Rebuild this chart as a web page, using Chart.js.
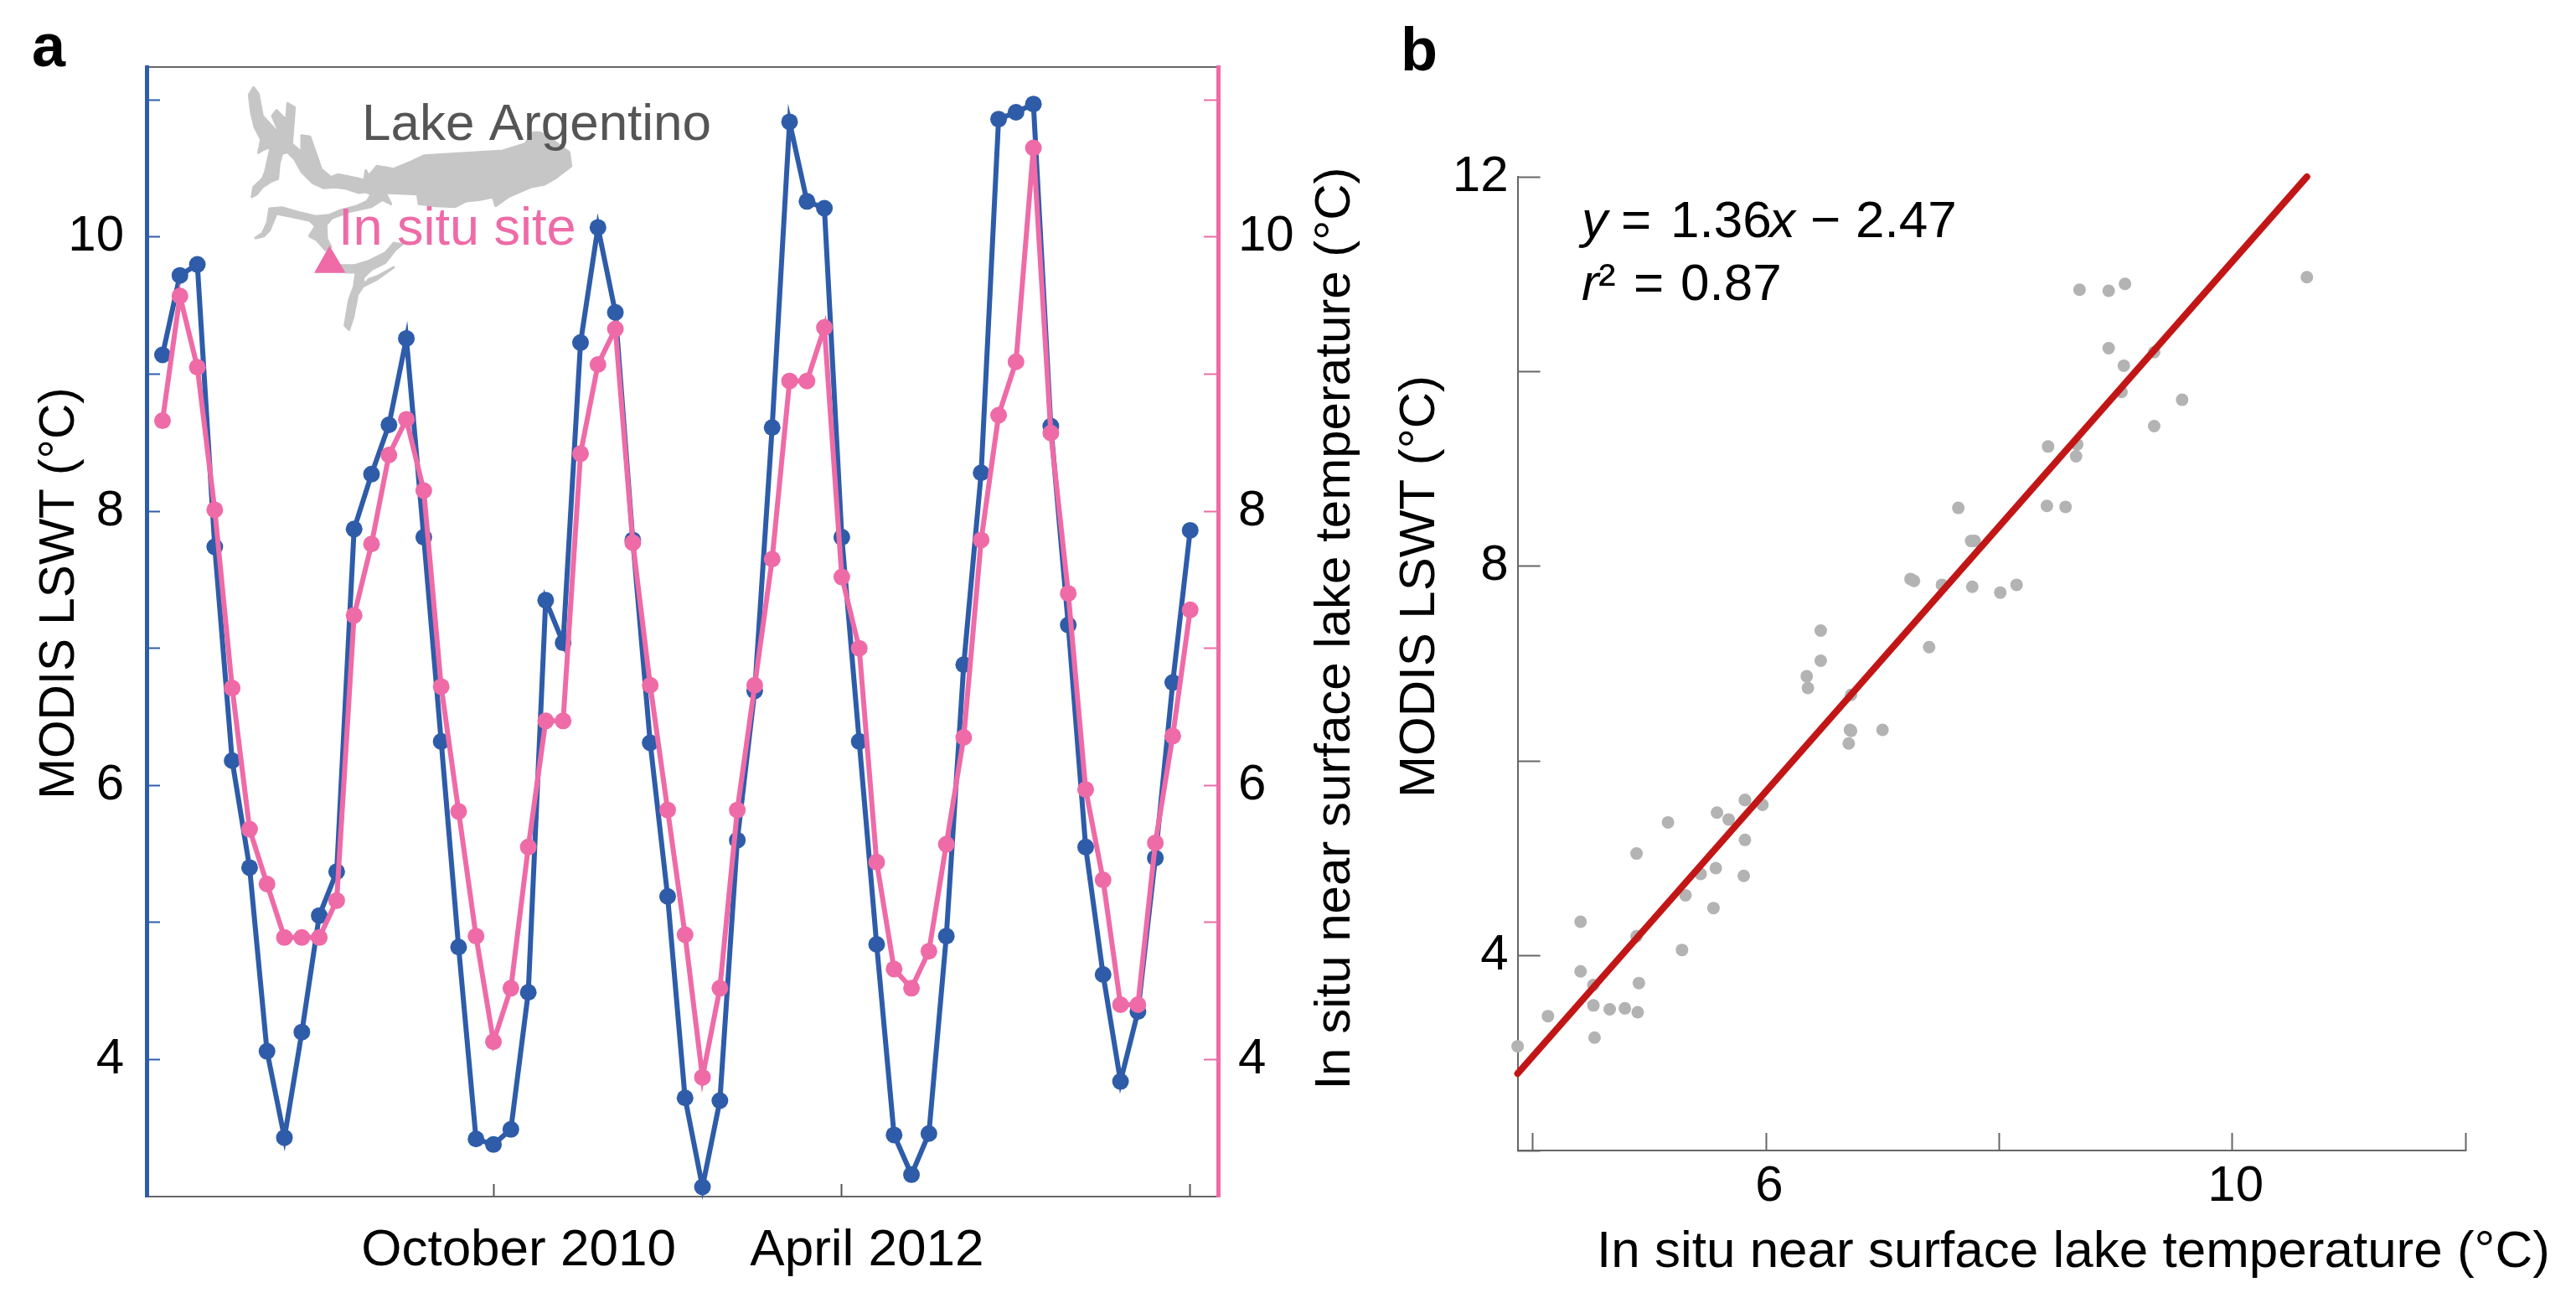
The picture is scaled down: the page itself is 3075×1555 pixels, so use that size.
<!DOCTYPE html>
<html>
<head>
<meta charset="utf-8">
<script src="https://cdn.jsdelivr.net/npm/chart.js@4"></script>
<style>
html,body{margin:0;padding:0;background:#fff;width:3075px;height:1555px;overflow:hidden}
canvas{position:absolute;top:0}
#a{left:0}
#b{left:1660px}
</style>
</head>
<body>
<canvas id="a" width="1660" height="1555"></canvas>
<canvas id="b" width="1415" height="1555"></canvas>
<script>
const FONT = '"Liberation Sans", Arial, sans-serif';
const BLUE = '#2E5CA9', PINK = '#EE6BA7', AXIS = '#666666', DOT = '#B3B3B3', RED = '#C21616';

// Panel a: monthly series
const modisLSWT = [9.14,9.72,9.80,7.74,6.18,5.40,4.06,3.43,4.20,5.05,5.37,7.87,8.27,8.63,9.26,7.81,6.32,4.82,3.42,3.38,
  3.49,4.49,7.35,7.04,9.23,10.07,9.45,7.79,6.31,5.19,3.72,3.07,3.70,5.60,6.69,8.61,10.84,10.26,10.21,7.81,
  6.32,4.84,3.45,3.16,3.46,4.90,6.88,8.28,10.86,10.91,10.97,8.62,7.17,5.55,4.62,3.84,4.35,5.47,6.75,7.86];
const inSituTemp = [8.66,9.57,9.05,8.01,6.71,5.68,5.28,4.89,4.89,4.89,5.16,7.24,7.76,8.41,8.67,8.15,6.72,5.81,4.90,4.13,
  4.52,5.55,6.47,6.47,8.42,9.07,9.33,7.77,6.73,5.82,4.91,3.87,4.52,5.82,6.73,7.65,8.95,8.95,9.34,7.52,
  7.00,5.44,4.66,4.52,4.79,5.57,6.35,7.79,8.70,9.09,10.65,8.57,7.40,5.97,5.31,4.40,4.40,5.58,6.36,7.28];
const timeTicks = [19,39,59];
const timeTickLabels = ['October 2010','April 2012',''];
const tempTicks = [4,5,6,7,8,9,10,11];
const tempTickLabels = ['4','','6','','8','','10',''];

// Panel b: scatter
const scatterInSitu = [6.72,7.00,6.71,5.82,5.97,5.58,5.68,5.16,5.82,4.89,5.57,5.44,5.81,5.31,5.55,4.41,4.89,5.28,4.41,4.91,4.52,4.52,4.66,4.79,4.90,4.13,4.53,3.87,
  10.64,8.69,8.94,9.08,8.94,9.07,9.33,9.05,9.57,9.33,8.42,8.67,8.66,7.65,8.41,8.57,7.76,7.79,7.24,7.27,7.51,7.77,8.01,8.15,7.40,6.73,
  6.47,6.47,6.35,6.36,6.73,5.82];
const scatterModis = [6.32,6.32,6.18,5.60,5.55,5.47,5.40,5.37,5.19,5.05,4.90,4.84,4.82,4.62,4.49,4.35,4.20,4.06,3.84,3.72,3.70,3.49,3.45,3.46,3.42,3.38,3.16,3.07,
  10.97,10.84,10.83,10.90,10.24,10.06,10.20,9.79,9.71,9.44,9.23,9.25,9.13,8.60,8.62,8.61,8.26,8.26,7.87,7.85,7.81,7.79,7.73,7.81,7.17,6.68,
  7.34,7.03,6.87,6.75,6.31,5.60];
const fitX = [3.87,10.64];
const fitY = [2.79,12.0];
const scatterXTicks = [4,6,8,10,12];
const scatterXLabels = ['','6','','10',''];
const scatterYTicks = [2,4,6,8,10,12];
const scatterYLabels = ['','4','','8','','12'];

// Inset map outline (decoration, traced shape)
const lakeUpper = [[68,28],[52,55],[60,120],[72,170],[95,215],[90,240],[85,262],[105,250],[130,240],[120,285],[110,330],[100,355],[68,385],[62,420],[80,410],[100,385],[130,365],[155,355],[160,300],[170,265],[190,260],[215,285],[240,330],[280,370],[320,388],[360,385],[400,390],[445,405],[470,402],[490,410],[475,435],[440,452],[380,468],[340,485],[290,490],[240,478],[170,458],[125,462],[118,510],[100,550],[75,567],[105,560],[125,540],[150,480],[200,490],[270,505],[290,525],[268,560],[295,575],[325,610],[345,600],[330,570],[328,520],[350,495],[420,470],[490,455],[530,430],[560,445],[540,405],[655,410],[660,445],[720,452],[790,455],[830,435],[880,430],[925,420],[935,452],[980,420],[1060,385],[1110,375],[1150,352],[1205,310],[1198,260],[1150,225],[1095,190],[1070,190],[1040,230],[960,255],[800,265],[680,272],[630,295],[570,320],[510,310],[480,345],[470,325],[465,360],[445,355],[370,340],[345,350],[310,320],[295,275],[270,205],[240,200],[240,260],[205,230],[215,100],[190,85],[185,145],[150,110],[135,130],[165,200],[100,130],[85,50]];
const lakeLower = [[380,665],[400,690],[435,690],[428,740],[410,790],[395,880],[410,895],[425,850],[440,770],[460,740],[510,715],[570,672],[510,705],[480,715],[465,735],[460,710],[490,680],[540,655],[575,610],[600,590],[570,585],[540,620],[480,650],[430,665]];
const siteMarker = [[340,595],[285,692],[398,692]];

function fixSize(prop, v){ return s => { s[prop] = v; }; }
function setTicks(values){ return s => { s.ticks = values.map(v => ({value:v})); }; }
function labeler(values, labels){ return v => { const i = values.indexOf(v); return i < 0 ? '' : labels[i]; }; }
function drawText(ctx, t){
  ctx.save();
  ctx.translate(t.x, t.y);
  if (t.rot) ctx.rotate(t.rot * Math.PI / 180);
  ctx.font = t.font; ctx.fillStyle = t.color || '#000';
  ctx.textAlign = t.align || 'left'; ctx.textBaseline = t.base || 'alphabetic';
  ctx.fillText(t.s, 0, 0);
  ctx.restore();
}
const F = (n, style) => (style ? style + ' ' : '') + n + 'px ' + FONT;

const insetPlugin = {
  id: 'inset',
  beforeDatasetsDraw(chart){
    const ctx = chart.ctx;
    const X = p => 280 + p[0] / 3, Y = p => 95 + p[1] / 3;
    const poly = (pts, col, sw) => {
      ctx.beginPath();
      pts.forEach((p, i) => i ? ctx.lineTo(X(p), Y(p)) : ctx.moveTo(X(p), Y(p)));
      ctx.closePath(); ctx.fillStyle = col; ctx.fill();
      if (sw) { ctx.strokeStyle = col; ctx.lineWidth = sw; ctx.lineJoin = 'round'; ctx.stroke(); }
    };
    poly(lakeUpper, '#C6C6C6', 3);
    poly(lakeLower, '#C6C6C6', 3);
    drawText(ctx, {s:'Lake Argentino', x:432, y:167, font:F(62), color:'#555555'});
    drawText(ctx, {s:'In situ site', x:404, y:292, font:F(63), color:PINK});
    poly(siteMarker, PINK);
  },
  afterDraw(chart){
    const ctx = chart.ctx;
    drawText(ctx, {s:'a', x:38, y:79, font:F(72,'bold')});
    drawText(ctx, {s:'MODIS LSWT (°C)', x:88, y:708, rot:-90, align:'center', font:F(58.5)});
    drawText(ctx, {s:'In situ near surface lake temperature (°C)', x:1611, y:750, rot:-90, align:'center', font:F(60)});
  }
};
const textB = {
  id: 'textB',
  afterDraw(chart){
    const ctx = chart.ctx, o = 1660;
    drawText(ctx, {s:'b', x:1672-o, y:84, font:F(72,'bold')});
    drawText(ctx, {s:'MODIS LSWT (°C)', x:1712-o, y:700, rot:-90, align:'center', font:F(60)});
    drawText(ctx, {s:'In situ near surface lake temperature (°C)', x:1906-o, y:1512, font:F(62)});
    const b1 = 283, b2 = 358;
    drawText(ctx, {s:'y', x:1888-o, y:b1, font:F(62,'italic')});
    drawText(ctx, {s:'=', x:1935-o, y:b1, font:F(62)});
    drawText(ctx, {s:'1.36', x:1994-o, y:b1, font:F(62)});
    drawText(ctx, {s:'x', x:2112-o, y:b1, font:F(62,'italic')});
    drawText(ctx, {s:'−', x:2161-o, y:b1, font:F(62)});
    drawText(ctx, {s:'2.47', x:2215-o, y:b1, font:F(62)});
    drawText(ctx, {s:'r', x:1888-o, y:b2, font:F(62,'italic')});
    drawText(ctx, {s:'²', x:1908-o, y:b2, font:F(62)});
    drawText(ctx, {s:'=', x:1950-o, y:b2, font:F(62)});
    drawText(ctx, {s:'0.87', x:2006-o, y:b2, font:F(62)});
  }
};

const base = {
  responsive:false, animation:false, events:[],
  plugins:{legend:{display:false}, tooltip:{enabled:false}}
};

new Chart(document.getElementById('a'), {
  type:'line',
  data:{datasets:[
    {label:'MODIS LSWT', yAxisID:'y', xAxisID:'x', order:2, clip:false,
     data:modisLSWT.map((v,i)=>({x:i,y:v})), borderColor:BLUE, backgroundColor:BLUE,
     borderWidth:6, pointRadius:10, pointBackgroundColor:BLUE, pointBorderWidth:0, tension:0},
    {label:'In situ', yAxisID:'y2', xAxisID:'x', order:1, clip:false,
     data:inSituTemp.map((v,i)=>({x:i,y:v})), borderColor:PINK, backgroundColor:PINK,
     borderWidth:6, pointRadius:10, pointBackgroundColor:PINK, pointBorderWidth:0, tension:0}
  ]},
  options:{...base,
    layout:{padding:{top:80,left:0,right:0,bottom:0}},
    scales:{
      x:{type:'linear', position:'bottom', min:-0.913, max:60.6,
         afterBuildTicks:setTicks(timeTicks), afterFit:fixSize('height',127),
         border:{color:AXIS,width:2}, grid:{drawOnChartArea:false,tickLength:-15,tickColor:'#555',tickWidth:2},
         ticks:{callback:labeler(timeTicks,timeTickLabels), autoSkip:false, maxRotation:0, minRotation:0,
                font:{family:FONT,size:62}, color:'#000', padding:43, labelOffset:30}},
      xTop:{type:'linear', position:'top', min:-0.913, max:60.6, afterFit:fixSize('height',0),
         border:{color:AXIS,width:2}, grid:{display:false}, ticks:{display:false}},
      y:{type:'linear', position:'left', min:3, max:11.24,
         afterBuildTicks:setTicks(tempTicks), afterFit:fixSize('width',175),
         border:{color:BLUE,width:5}, grid:{drawOnChartArea:false,tickLength:-16,tickColor:BLUE,tickWidth:2},
         ticks:{callback:labeler(tempTicks,tempTickLabels), autoSkip:false,
                font:{family:FONT,size:60}, color:'#000', padding:43}},
      y2:{type:'linear', position:'right', min:3, max:11.24,
         afterBuildTicks:setTicks(tempTicks), afterFit:fixSize('width',206),
         border:{color:PINK,width:5}, grid:{drawOnChartArea:false,tickLength:-17,tickColor:PINK,tickWidth:2},
         ticks:{callback:labeler(tempTicks,tempTickLabels), autoSkip:false,
                font:{family:FONT,size:60}, color:'#000', padding:41}}
    }
  },
  plugins:[insetPlugin]
});

new Chart(document.getElementById('b'), {
  type:'scatter',
  data:{datasets:[
    {type:'line', label:'Fit', order:1, clip:false, data:fitX.map((v,i)=>({x:v,y:fitY[i]})),
     borderColor:RED, borderWidth:8, borderCapStyle:'round', pointRadius:0, tension:0},
    {label:'Monthly', order:2, clip:false, data:scatterInSitu.map((v,i)=>({x:v,y:scatterModis[i]})),
     backgroundColor:DOT, pointRadius:7.5, pointBorderWidth:0}
  ]},
  options:{...base,
    layout:{padding:{top:211,left:0,right:132,bottom:0}},
    scales:{
      x:{type:'linear', position:'bottom', min:3.87, max:12,
         afterBuildTicks:setTicks(scatterXTicks), afterFit:fixSize('height',182),
         border:{color:AXIS,width:2}, grid:{drawOnChartArea:false,tickLength:-21,tickColor:AXIS,tickWidth:2},
         ticks:{callback:labeler(scatterXTicks,scatterXLabels), autoSkip:false, maxRotation:0, minRotation:0,
                font:{family:FONT,size:60}, color:'#000', padding:28, labelOffset:4}},
      y:{type:'linear', position:'left', min:2, max:12,
         afterBuildTicks:setTicks(scatterYTicks), afterFit:fixSize('width',151.6),
         border:{color:AXIS,width:2}, grid:{drawOnChartArea:false,tickLength:-27,tickColor:AXIS,tickWidth:2},
         ticks:{callback:labeler(scatterYTicks,scatterYLabels), autoSkip:false,
                font:{family:FONT,size:60}, color:'#000', padding:38}}
    }
  },
  plugins:[textB]
});
</script>
</body>
</html>
